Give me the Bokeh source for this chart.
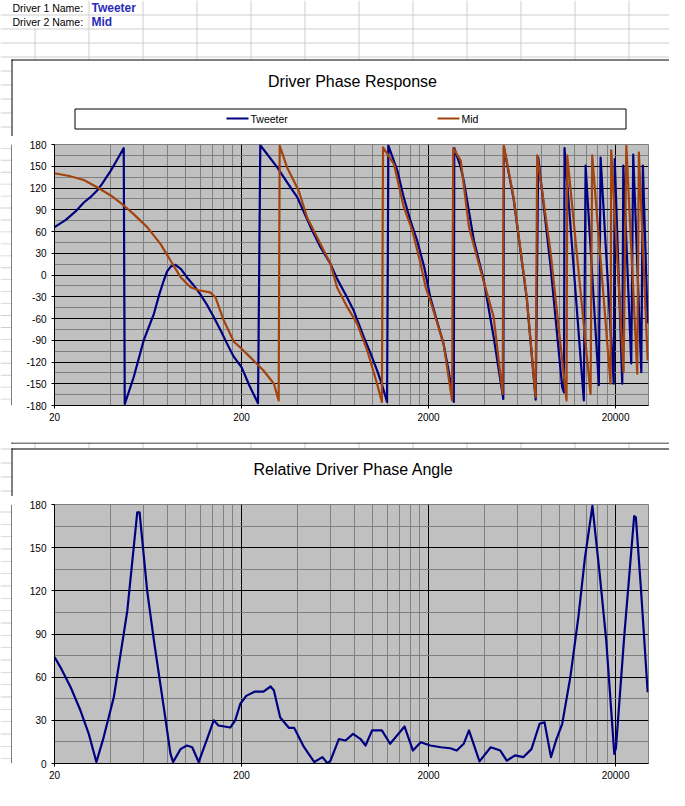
from bokeh.plotting import figure
from bokeh.models import FixedTicker, PrintfTickFormatter, Range1d
from bokeh.layouts import column, row
from bokeh.core.properties import value
from bokeh.embed import file_html
from bokeh.resources import INLINE

# ---------------- data ----------------
driver1_name = "Tweeter"
driver2_name = "Mid"

tweeter_freq = [20, 23, 26, 28.7, 31, 33.8, 36, 40, 43, 46.9, 47.5, 53, 60, 68, 73, 76.8, 80, 84,
                88.7, 95, 102, 110, 120, 130, 142, 155, 167.6, 182, 200, 220, 245, 252, 310, 350,
                397.6, 468, 530, 598, 648, 720, 796, 902, 980, 1061, 1130, 1200, 1220, 1362, 1474,
                1600, 1738, 1900, 2043, 2200, 2406, 2550, 2730, 2745, 2972, 3084, 3496, 3950, 4460,
                5020, 5060, 5700, 6700, 7480, 7720, 8960, 10372, 10600, 10670, 13530, 13830, 16280,
                16630, 19550, 19800, 21720, 22000, 24260, 24860, 27450, 27990, 29700]
tweeter_phase = [66, 76, 88, 100, 107, 116.6, 126, 144, 158, 175, -178, -141, -90, -53.5, -25, -7.6,
                 5, 12, 14, 8, -3, -13, -26, -40, -58, -77, -95, -113, -127, -152, -177, 179, 148.7,
                 128, 107, 66, 38, 15.4, -5, -27, -49, -85.8, -108, -131.7, -152, -175, 178.6, 144,
                 107, 75, 47.6, 10, -30.6, -60, -95, -130, -175, 175, 148.7, 130, 47.6, -7.6, -85.8,
                 -171, 176, 105, -32, -172, 162, 15, -155, -162, 175, -173, 151, -152, 162, -150,
                 160, -150, 151, -122, 166, -134, 151, -67]

mid_freq = [20, 24, 28.7, 33.8, 40, 46.9, 53, 62.6, 73.7, 83.4, 94.4, 106.8, 118, 136, 145, 160.8,
            182, 197, 224, 262, 298, 316, 320, 350, 404, 448, 528, 598, 648, 734, 830, 940, 1061,
            1126, 1142, 1306, 1474, 1638, 1816, 1930, 2043, 2406, 2672, 2710, 2972, 3290, 3800,
            4460, 4980, 5050, 5700, 6700, 7470, 7620, 8960, 10940, 11030, 14700, 15000, 18800,
            18960, 22070, 22830, 26120, 26650, 29700]
mid_phase = [140.4, 136.5, 131, 121, 109.7, 95.9, 84, 66, 43, 20, -3, -17, -21, -24, -30.6, -62.8,
             -92, -100, -114, -131.7, -150, -173, 178.6, 148.7, 116.6, 79.8, 43, 15.4, -16.8, -44,
             -67, -104, -150, -175, 176, 153, 93.6, 61.4, 15, -17, -35, -95, -173, 175, 158, 66, 6,
             -58, -164, 178.6, 107, -30.6, -168.6, 165, 34, -173, 165, -164, 165, -150, 172, -134,
             178.6, -136, 169, -118]

rel_freq = [20, 21.5, 24.4, 27.5, 30.5, 33.5, 36.6, 41.5, 45.1, 49, 55.4, 57, 62.6, 68, 76.8, 83.4,
            86.2, 94.4, 102, 109, 118, 131.7, 142, 150.5, 174, 185, 197, 212, 236, 262, 286, 298,
            322, 358, 382, 432, 490, 542, 577, 598, 663, 720, 790, 866, 921, 998, 1126, 1246, 1489,
            1651, 1816, 2043, 2330, 2612, 2830, 3084, 3290, 3745, 4300, 4840, 5240, 5800, 6420,
            7100, 7850, 8340, 9030, 9610, 10370, 11460, 12650, 13720, 15040, 16440, 17830, 19690,
            20100, 22240, 25150, 25680, 27300, 29700]
rel_phase = [74, 67, 53, 37, 20.6, 1, 18, 46, 76, 106, 174.6, 174.6, 120, 85.5, 39, 6.7, 1, 10, 12.5,
             11.3, 1, 18, 30, 26.4, 25, 30, 41.5, 47, 50, 50, 53.5, 50.7, 32, 24.8, 24.8, 11.3, 1,
             4.4, 0, 2, 17, 16, 20.6, 17, 12.5, 23, 23, 13.7, 25.7, 9, 14.8, 12.5, 11.3, 10.6, 9,
             13.7, 23, 1.5, 11.3, 9, 2, 5.6, 4.4, 10, 27.6, 28.7, 4.4, 16, 27.6, 60, 101.7, 143,
             179, 132, 85.5, 6.7, 11, 88, 172, 171, 122.5, 49.5]

x_major = [20, 200, 2000, 20000]
x_minor = [d * m for d in (20, 200, 2000) for m in range(2, 10)]
y1_major = list(range(-180, 181, 30))
y1_minor = list(range(-165, 180, 30))
y2_major = list(range(0, 181, 30))
y2_minor = list(range(15, 180, 30))

# ---------------- style / geometry (pixels of the page) ----------------
FONT = "Liberation Sans"
NAVY = "#000080"
BROWN = "#A3440F"
SHEET = "#D0D0D0"
PLOT_BG = "#C0C0C0"
NAME_BLUE = "#2B2BB8"
X_MIN, X_MAX = 20, 30000
W = 669
STRIP = 12
FRAME_L, FRAME_R = 54, 648
sheet_cols = [34, 88, 142, 196, 250, 304, 358, 412, 466, 520, 574, 628]
ROW_H = 14


def pixel_fig(w, h, x0, y0):
    p = figure(width=w, height=h, x_range=Range1d(x0, x0 + w), y_range=Range1d(y0 + h, y0),
               output_backend="svg", toolbar_location=None, title=None, min_border=0,
               x_axis_location=None, y_axis_location=None)
    for g in p.grid:
        g.visible = False
    p.outline_line_color = None
    p.background_fill_color = "white"
    p.border_fill_color = "white"
    return p


def fill(p, x0, x1, y0, y1, color):
    p.quad(left=x0, right=x1, top=y0, bottom=y1, fill_color=color, line_color=None)


def write(p, x, y, text, size, align="left", bold=False, color="black"):
    p.text(x=[x], y=[y], text=[text], text_font=value(FONT), text_font_size=value(size),
           text_align=align, text_baseline="middle", text_color=color,
           text_font_style="bold" if bold else "normal")


def sheet_lines(p, x0, x1, y0, y1, col_start=None):
    for X in sheet_cols:
        if X + 1 <= x0 or X >= x1:
            continue
        ys = y0
        if col_start and X in col_start:
            ys = max(y0, col_start[X])
        if ys < y1:
            fill(p, X, X + 1, ys, y1, SHEET)
    k0 = int(y0 // ROW_H) + 1
    for k in range(k0, int(y1 // ROW_H) + 1):
        Y = k * ROW_H
        if y0 <= Y < y1:
            fill(p, x0, x1, Y, Y + 1, SHEET)


def chart(height, top_ref, frame_top, frame_bot, y0, y1, ymaj, ymin):
    p = figure(width=W - STRIP, height=height, x_axis_type="log",
               x_range=Range1d(X_MIN, X_MAX), y_range=Range1d(y0, y1),
               output_backend="svg", toolbar_location=None, title=None,
               min_border_left=FRAME_L - STRIP, min_border_right=W - FRAME_R,
               min_border_top=frame_top - top_ref,
               min_border_bottom=(top_ref + height) - frame_bot)
    p.border_fill_color = "white"
    p.background_fill_color = PLOT_BG
    p.outline_line_color = "#808080"
    xt = FixedTicker(ticks=x_major, minor_ticks=x_minor)
    yt = FixedTicker(ticks=ymaj, minor_ticks=ymin)
    p.xaxis.ticker = xt
    p.yaxis.ticker = yt
    p.xgrid.ticker = xt
    p.ygrid.ticker = yt
    for g in (p.xgrid, p.ygrid):
        g.grid_line_color = "black"
        g.grid_line_width = 1
        g.minor_grid_line_color = "#808080"
        g.minor_grid_line_width = 1
    for ax in (p.xaxis, p.yaxis):
        ax.formatter = PrintfTickFormatter(format="%d")
        ax.axis_line_color = "black"
        ax.major_tick_line_color = "black"
        ax.major_tick_out = 3
        ax.major_tick_in = 0
        ax.minor_tick_out = 0
        ax.minor_tick_in = 0
        ax.major_label_text_font = FONT
        ax.major_label_text_font_size = "10px"
        ax.major_label_text_color = "black"
    p.xaxis.major_label_standoff = 4
    p.yaxis.major_label_standoff = 5
    return p


def strip(y0, y1):
    s = pixel_fig(STRIP, y1 - y0, 0, y0)
    sheet_lines(s, 0, 11, y0, y1)
    fill(s, 11, 12, y0, y1, "black")
    return s


# ---------------- header + top of chart 1 ----------------
TOP_H = 136
top = pixel_fig(W, TOP_H, 0, 0)
sheet_lines(top, 0, W, 0, TOP_H, col_start={34: 28})
fill(top, 11, W, 59, TOP_H, "white")
fill(top, 11, W, 59, 60, "black")
fill(top, 11, 12, 59, TOP_H, "black")
write(top, 12, 7, "Driver 1 Name:", "10.5px")
write(top, 91, 7, driver1_name, "12px", bold=True, color=NAME_BLUE)
write(top, 12, 21, "Driver 2 Name:", "10.5px")
write(top, 91, 21, driver2_name, "12px", bold=True, color=NAME_BLUE)
write(top, 352, 81, "Driver Phase Response", "16px", align="center")
top.quad(left=74.5, right=625.5, top=108.5, bottom=128.5, fill_color="white",
         line_color="black", line_width=1)
fill(top, 226, 248, 117, 119, NAVY)
write(top, 250, 118, driver1_name, "10.5px")
fill(top, 437, 459, 117, 119, BROWN)
write(top, 461, 118, driver2_name, "10.5px")

# ---------------- chart 1 ----------------
C1_TOP, C1_BOT = TOP_H, 442
p1 = chart(C1_BOT - C1_TOP, C1_TOP, 144, 405, -180, 180, y1_major, y1_minor)
p1.line(tweeter_freq, tweeter_phase, line_color=NAVY, line_width=2.2, line_join="round")
p1.line(mid_freq, mid_phase, line_color=BROWN, line_width=2.2, line_join="round")

# ---------------- gap + top of chart 2 ----------------
MID_TOP, MID_BOT = 442, 496
mid = pixel_fig(W, MID_BOT - MID_TOP, 0, MID_TOP)
sheet_lines(mid, 0, W, MID_TOP, MID_BOT)
fill(mid, 11, W, 442, 443, "black")
fill(mid, 11, 12, 442, 443, "black")
fill(mid, 11, W, 448, MID_BOT, "white")
fill(mid, 11, W, 448, 449, "black")
fill(mid, 11, 12, 448, MID_BOT, "black")
write(mid, 353, 469, "Relative Driver Phase Angle", "16px", align="center")

# ---------------- chart 2 ----------------
C2_TOP, C2_BOT = MID_BOT, 790
p2 = chart(C2_BOT - C2_TOP, C2_TOP, 504, 763, 0, 180, y2_major, y2_minor)
p2.line(rel_freq, rel_phase, line_color=NAVY, line_width=2.2, line_join="round")

layout = column(
    top,
    row(strip(C1_TOP, C1_BOT), p1, spacing=0),
    mid,
    row(strip(C2_TOP, C2_BOT), p2, spacing=0),
    spacing=0,
)
open("out.html", "w").write(file_html(layout, INLINE))
